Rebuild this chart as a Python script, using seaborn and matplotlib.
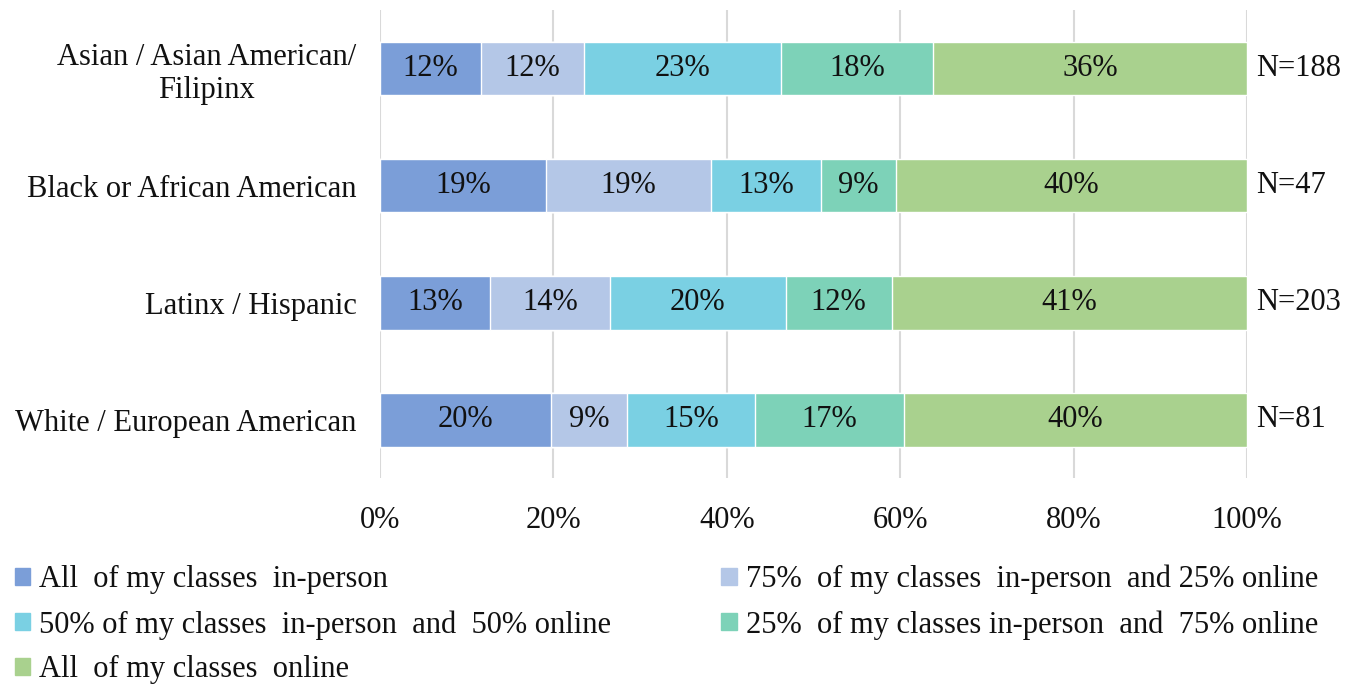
import numpy as np
import pandas as pd
import matplotlib.pyplot as plt
import seaborn as sns

# groups and share of students for each mode of class attendance (percent)
groups = ['Asian / Asian American/\nFilipinx', 'Black or African American',
          'Latinx / Hispanic', 'White / European American']
n_labels = ['N=188', 'N=47', 'N=203', 'N=81']
modes = ['All  of my classes  in-person',
         '75%  of my classes  in-person  and 25% online',
         '50% of my classes  in-person  and  50% online',
         '25%  of my classes in-person  and  75% online',
         'All  of my classes  online']
all_inperson = [11.7, 19.1, 12.7, 19.7]
inperson_75 = [11.8, 19.1, 13.8, 8.8]
inperson_50 = [22.7, 12.7, 20.3, 14.8]
inperson_25 = [17.6, 8.6, 12.2, 17.1]
all_online = [36.2, 40.5, 41.0, 39.6]
colors = ['#7b9ed8', '#b4c7e7', '#7ad0e3', '#7dd2b8', '#a9d18e']

series = [all_inperson, inperson_75, inperson_50, inperson_25, all_online]
vals = np.array(series)
cum = vals.cumsum(axis=0)

sns.set_style('white')
plt.rcParams['font.family'] = ['Liberation Serif', 'DejaVu Serif']
fs = 22

fig = plt.figure(figsize=(13.62, 6.88), dpi=100)
ax = fig.add_axes([0.279, 0.305, 0.6366, 0.6805])

# stacked bars: draw cumulative totals from the longest down
for k in range(len(modes) - 1, -1, -1):
    df = pd.DataFrame({'group': groups, 'value': cum[k]})
    sns.barplot(data=df, x='value', y='group', color=colors[k], orient='h',
                width=0.46, saturation=1, ax=ax, zorder=2)

# segment labels
for k in range(len(modes)):
    for i in range(len(groups)):
        left = cum[k][i] - vals[k][i]
        ax.text(left + vals[k][i] / 2, i, '%d%%' % round(vals[k][i]),
                ha='center', va='center', fontsize=fs, color='#111111', zorder=3)

for i, n in enumerate(n_labels):
    ax.text(101, i, n, ha='left', va='center', fontsize=fs, color='#111111')

ax.set_xlim(0, 100)
ax.set_ylim(3.5, -0.5)
ax.set_xticks(range(0, 101, 20))
ax.set_xticklabels(['%d%%' % t for t in range(0, 101, 20)])
ax.tick_params(axis='x', labelsize=fs, length=0, pad=20, colors='#111111')
ax.tick_params(axis='y', labelsize=fs, length=0, pad=17, colors='#111111')
for lab in ax.get_yticklabels():
    lab.set_multialignment('center')
ax.set_xlabel('')
ax.set_ylabel('')
ax.grid(axis='x', color='#d9d9d9', linewidth=1.5, zorder=0)
ax.set_axisbelow(True)
sns.despine(ax=ax, left=True, bottom=True)

handles = [plt.Rectangle((0, 0), 1, 1, color=c) for c in colors]
order = [0, 2, 4, 1, 3]
fig.legend([handles[o] for o in order], [modes[o] for o in order],
           loc='upper left', bbox_to_anchor=(0.002, 0.197), ncol=2, frameon=False,
           fontsize=fs, labelcolor='#111111', handlelength=0.5, handleheight=0.5,
           handletextpad=0.3, columnspacing=3.6, labelspacing=0.52, borderaxespad=0)

fig.savefig('out.png', dpi=100)
